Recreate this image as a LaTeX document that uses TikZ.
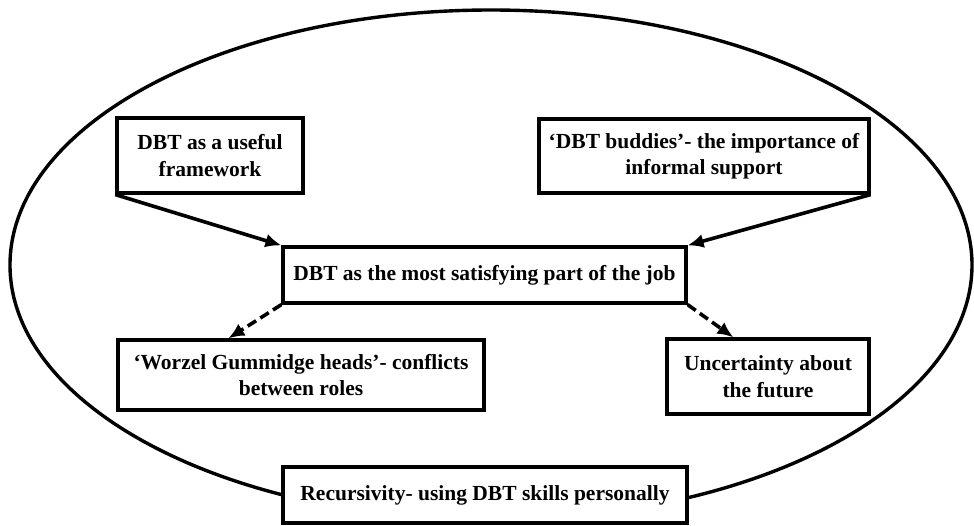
\documentclass[tikz,border=0pt]{standalone}
\usepackage{fontspec}
\setmainfont{Liberation Serif}
\usetikzlibrary{arrows.meta,calc}
\begin{document}
\begin{tikzpicture}[x=1pt,y=-1pt,
  theme/.style={draw=black,line width=3.2pt,fill=white,align=center,
    font=\bfseries\fontsize{21.5}{26.5}\selectfont,inner sep=2pt},
  solidlink/.style={line width=3.6pt,-{Latex[length=16pt,width=14pt]}},
  dashlink/.style={line width=3.6pt,dash pattern=on 10pt off 5pt,-{Latex[length=16pt,width=14pt]}}]
\useasboundingbox (0,0) rectangle (974,525);
% outer frame around all themes
\draw[line width=3.4pt] (491,265) ellipse [x radius=481pt, y radius=255pt];
% theme boxes
\node[theme,minimum width=186pt,minimum height=75pt] (frame) at (210,155.5)
  {DBT as a useful\\framework};
\node[theme,minimum width=330pt,minimum height=74pt] (buddies) at (704,156)
  {‘DBT buddies’- the importance of\\informal support};
\node[theme,minimum width=403pt,minimum height=56pt] (core) at (484.5,275)
  {DBT as the most satisfying part of the job};
\node[theme,minimum width=366pt,minimum height=70pt] (roles) at (301,375)
  {‘Worzel Gummidge heads’- conflicts\\between roles};
\node[theme,minimum width=202pt,minimum height=75pt] (future) at (768,376.5)
  {Uncertainty about\\the future};
\node[theme,minimum width=404pt,minimum height=56pt] (recur) at (485,495)
  {Recursivity- using DBT skills personally};
% arrow end points on the lower boxes
\coordinate (rolesin) at ($(roles.north west)+(112,0)$);
\coordinate (futurein) at ($(future.north west)+(68,0)$);
% connectors
\draw[solidlink] (frame.south west) -- (core.north west);
\draw[solidlink] (buddies.south east) -- (core.north east);
\draw[dashlink] (core.south west) -- (rolesin);
\draw[dashlink] (core.south east) -- (futurein);
\end{tikzpicture}
\end{document}
